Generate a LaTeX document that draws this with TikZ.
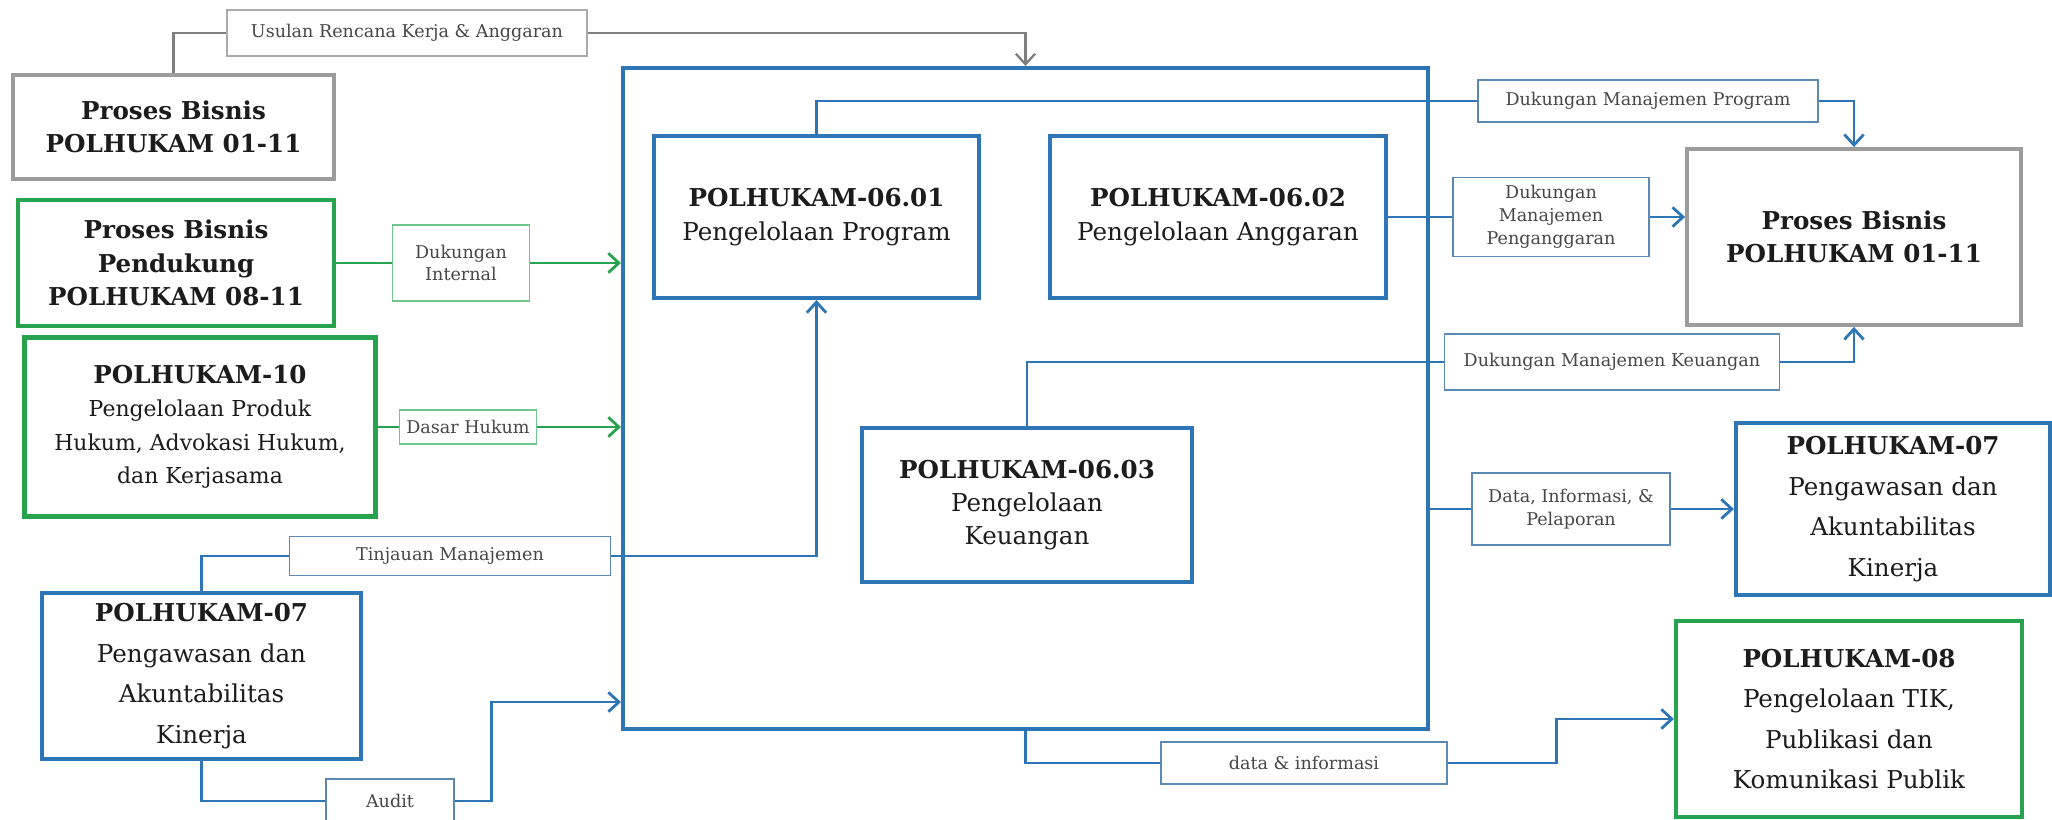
\documentclass[tikz,border=0pt]{standalone}
\usepackage{fontspec}
\setmainfont{DejaVu Serif}
\usetikzlibrary{arrows.meta,calc}
\definecolor{biru}{HTML}{2E75B6}
\definecolor{birulab}{HTML}{5E88B4}
\definecolor{hijau}{HTML}{27A350}
\definecolor{hijaulab}{HTML}{70C48C}
\definecolor{abu}{HTML}{9C9C9C}
\definecolor{abulab}{HTML}{ABABAB}
\definecolor{abugaris}{HTML}{7F7F7F}
\definecolor{ink}{HTML}{1C1C1C}
\definecolor{ink2}{HTML}{474747}
\newcommand{\kc}{\fontsize{12.5pt}{16pt}\selectfont}
\tikzset{
  bbox/.style={draw=biru, line width=2.4pt, fill=white, align=center, inner sep=0pt, text=ink},
  gbox/.style={bbox, draw=hijau},
  abox/.style={bbox, draw=abu, line width=2.2pt},
  lebar/.style={font=\fontsize{14pt}{23pt}\selectfont},
  lab/.style={draw=birulab, line width=0.9pt, fill=white, align=center, inner sep=0pt,
    text=ink2, font=\fontsize{10pt}{13pt}\selectfont},
  glab/.style={lab, draw=hijaulab},
  alab/.style={lab, draw=abulab},
  ln/.style={draw=biru, line width=1.6pt},
  arr/.style={ln, -{Straight Barb[length=6pt,width=11pt]}},
  gln/.style={ln, draw=hijau},
  garr/.style={arr, draw=hijau},
  aln/.style={ln, draw=abugaris, line width=1.3pt},
  aarr/.style={aln, -{Straight Barb[length=6pt,width=11pt]}},
}

\begin{document}
\begin{tikzpicture}[x=0.02cm, y=-0.02cm, font=\fontsize{14pt}{19pt}\selectfont]
  \useasboundingbox (0,0) rectangle (2052,820);
  \node[bbox, minimum width=16.1cm, minimum height=13.22cm] (inti) at (1025.5,398.5) {};

  \node[abox, minimum width=6.42cm, minimum height=2.08cm] (pb1) at (173.5,127)
    {\textbf{Proses Bisnis}\\\textbf{POLHUKAM 01-11}};
  \node[gbox, minimum width=6.32cm, minimum height=2.52cm] (pend) at (176,263)
    {\textbf{Proses Bisnis}\\\textbf{Pendukung}\\\textbf{POLHUKAM 08-11}};
  \node[gbox, minimum width=7.02cm, minimum height=3.58cm] (p10) at (200,427)
    {\textbf{POLHUKAM-10}\\{\kc Pengelolaan Produk}\\{\kc Hukum, Advokasi Hukum,}\\{\kc dan Kerjasama}};
  \node[bbox, lebar, minimum width=6.38cm, minimum height=3.32cm] (p07l) at (201.5,676)
    {\textbf{POLHUKAM-07}\\Pengawasan dan\\Akuntabilitas\\Kinerja};

  \node[bbox, minimum width=6.5cm, minimum height=3.24cm] (p0601) at (816.5,217)
    {\textbf{POLHUKAM-06.01}\\Pengelolaan Program};
  \node[bbox, minimum width=6.72cm, minimum height=3.24cm] (p0602) at (1218,217)
    {\textbf{POLHUKAM-06.02}\\Pengelolaan Anggaran};
  \node[bbox, minimum width=6.6cm, minimum height=3.08cm] (p0603) at (1027,505)
    {\textbf{POLHUKAM-06.03}\\Pengelolaan\\Keuangan};

  \node[abox, minimum width=6.68cm, minimum height=3.52cm] (pb2) at (1854,237)
    {\textbf{Proses Bisnis}\\\textbf{POLHUKAM 01-11}};
  \node[bbox, lebar, minimum width=6.28cm, minimum height=3.44cm] (p07r) at (1893,509)
    {\textbf{POLHUKAM-07}\\Pengawasan dan\\Akuntabilitas\\Kinerja};
  \node[gbox, lebar, minimum width=6.92cm, minimum height=3.92cm] (p08) at (1849,719)
    {\textbf{POLHUKAM-08}\\Pengelolaan TIK,\\Publikasi dan\\Komunikasi Publik};

  \node[alab, minimum width=7.2cm, minimum height=0.92cm] (usulan) at (407,33) {Usulan Rencana Kerja \& Anggaran};
  \node[glab, minimum width=2.74cm, minimum height=1.52cm] (dint) at (461,263) {Dukungan\\Internal};
  \node[glab, minimum width=2.74cm, minimum height=0.68cm] (dhukum) at (468,427) {Dasar Hukum};
  \node[lab, minimum width=6.42cm, minimum height=0.78cm] (tinj) at (450,556) {Tinjauan Manajemen};
  \node[lab, minimum width=2.56cm, minimum height=0.88cm] (audit) at (390,801) {Audit};
  \node[lab, minimum width=6.8cm, minimum height=0.84cm] (dprog) at (1648,101) {Dukungan Manajemen Program};
  \node[lab, minimum width=3.92cm, minimum height=1.58cm] (dang) at (1551,217) {Dukungan\\Manajemen\\Penganggaran};
  \node[lab, minimum width=6.7cm, minimum height=1.12cm] (dkeu) at (1612,362) {Dukungan Manajemen Keuangan};
  \node[lab, minimum width=3.96cm, minimum height=1.44cm] (ddata) at (1571,509) {Data, Informasi, \&\\Pelaporan};
  \node[lab, minimum width=5.72cm, minimum height=0.84cm] (dinfo) at (1304,763) {data \& informasi};

  \draw[aln] (usulan.west) -| (pb1.north);
  \draw[aarr] (usulan.east) -| (inti.north);
  \draw[gln] (pend) -- (dint);
  \draw[garr] (dint) -- (dint -| inti.west);
  \draw[gln] (p10) -- (dhukum);
  \draw[garr] (dhukum) -- (dhukum -| inti.west);
  \draw[ln] (p07l.north) |- (tinj.west);
  \draw[arr] (tinj.east) -| (p0601.south);
  \draw[ln] (p07l.south) |- (audit.west);
  \draw[arr] (audit.east) -- ++(37,0) |- ($(inti.south west)+(0,-29)$);
  \draw[ln] (p0601.north) |- (dprog.west);
  \draw[arr] (dprog.east) -| (pb2.north);
  \draw[ln] (p0602) -- (dang);
  \draw[arr] (dang.east) -- (dang.east -| pb2.west);
  \draw[ln] (p0603.north) |- (dkeu.west);
  \draw[arr] (dkeu.east) -| (pb2.south);
  \draw[ln] (ddata.west -| inti.east) -- (ddata.west);
  \draw[arr] (ddata) -- (p07r);
  \draw[ln] (inti.south) |- (dinfo.west);
  \draw[arr] (dinfo.east) -- ++(109,0) |- (p08.west);
\end{tikzpicture}
\end{document}
